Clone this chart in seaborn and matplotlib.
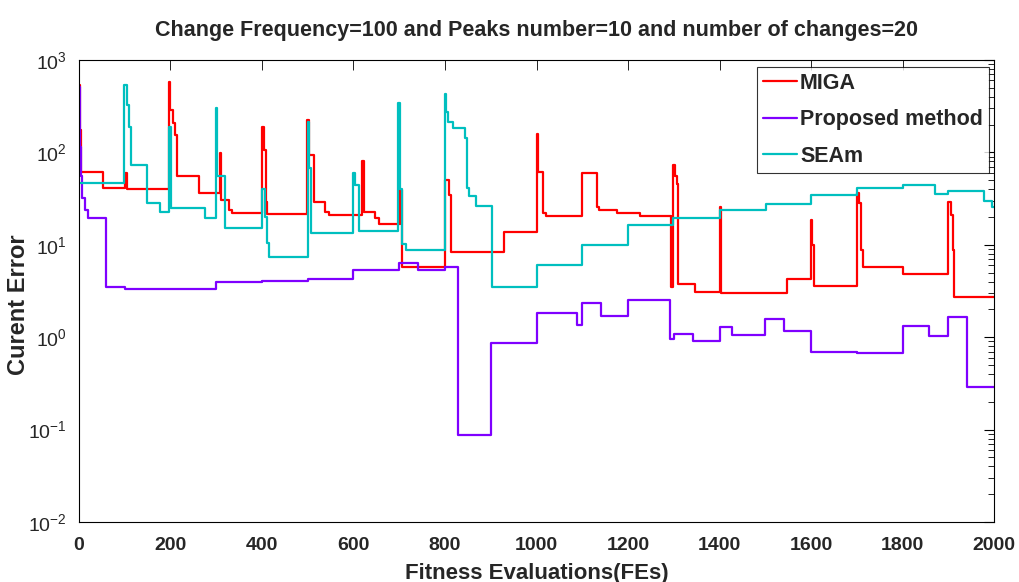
import numpy as np
import pandas as pd
import matplotlib
matplotlib.use("Agg")
import matplotlib.pyplot as plt
import seaborn as sns
from matplotlib.ticker import LogLocator, NullFormatter, FixedLocator

# ---------------- data ----------------
miga_x = [0, 2, 5, 53, 100, 106, 197, 200, 205, 210, 215, 262, 308, 311, 327, 335,
          400, 404, 408, 411, 498, 502, 514, 538, 546, 619, 622, 648, 655, 702, 707,
          800, 809, 813, 929, 1000, 1003, 1015, 1020, 1099, 1132, 1137, 1175, 1227,
          1293, 1298, 1302, 1306, 1310, 1346, 1401, 1404, 1548, 1599, 1602, 1606,
          1700, 1704, 1709, 1713, 1802, 1900, 1907, 1910, 1913, 2000]
miga_y = [540, 175, 62, 41, 60, 40, 580, 290, 210, 155, 56, 36, 98, 30.5, 24, 22,
          190, 106, 29, 21.5, 224, 94, 29, 22.9, 20.8, 80, 22.9, 19.4, 16.8, 39, 5.8,
          50, 34.6, 8.3, 13.9, 158, 61.6, 22, 20.6, 59.2, 25.6, 23.9, 22, 20.6,
          3.5, 73, 55, 46, 3.8, 3.1, 25.9, 3.0, 4.3, 18.5, 10, 3.6,
          36.6, 28, 8.7, 5.8, 4.8, 29, 20.8, 8.7, 2.75, 2.75]

prop_x = [0, 2, 3, 4, 6, 14, 20, 58, 100, 199, 299, 401, 500, 599, 699, 741, 800,
          829, 900, 1000, 1088, 1100, 1141, 1201, 1291, 1300, 1341, 1401, 1427,
          1500, 1541, 1601, 1700, 1800, 1858, 1900, 1940, 2000]
prop_y = [515, 198, 114, 55, 32, 24, 19.3, 3.47, 3.36, 3.3, 4.0, 4.1, 4.3, 5.3, 6.4, 5.3, 5.8,
          0.0875, 0.86, 1.82, 1.35, 2.37, 1.71, 2.53, 0.95, 1.08, 0.9, 1.28, 1.05,
          1.56, 1.17, 0.70, 0.68, 1.32, 1.03, 1.67, 0.29, 0.29]

seam_x = [0, 98, 104, 110, 114, 148, 177, 197, 202, 275, 299, 302, 320, 400, 407,
          411, 416, 501, 503, 507, 600, 604, 611, 698, 702, 707, 714, 800, 803, 807,
          818, 844, 849, 853, 868, 902, 1000, 1100, 1201, 1299, 1401, 1501, 1600,
          1700, 1802, 1871, 1900, 1977, 1995, 2000]
seam_y = [47, 536, 326, 190, 73, 28, 22.5, 187, 24.8, 19.3, 300, 55.6, 15.1, 40, 20.2,
          10.4, 7.4, 215, 67, 13.5, 59.3, 44.5, 14.1, 345, 40, 10.2, 8.7, 429, 276, 215,
          182, 142, 40.9, 34, 26.4, 3.47, 6.0, 10, 16.4, 19.7, 23.9, 27.4, 34.8,
          41.5, 44.5, 35.3, 38.5, 30.1, 25.9, 25.9]

series_names = ["MIGA", "Proposed method", "SEAm"]
series_colors = ["#ff0000", "#7f00ff", "#00bfbf"]

title_text = "Change Frequency=100 and Peaks number=10 and number of changes=20"
xlabel_text = "Fitness Evaluations(FEs)"
ylabel_text = "Curent Error"
xticks = [0, 200, 400, 600, 800, 1000, 1200, 1400, 1600, 1800, 2000]

# ---------------- build ----------------
df = pd.concat([
    pd.DataFrame({"FEs": miga_x, "err": miga_y, "method": series_names[0]}),
    pd.DataFrame({"FEs": prop_x, "err": prop_y, "method": series_names[1]}),
    pd.DataFrame({"FEs": seam_x, "err": seam_y, "method": series_names[2]}),
], ignore_index=True)

sns.set_theme(style="white")
plt.rcParams["font.family"] = ["Liberation Sans", "DejaVu Sans"]
plt.rcParams["mathtext.fontset"] = "custom"
plt.rcParams["mathtext.rm"] = "Liberation Sans"

fig = plt.figure(figsize=(10.19, 5.82), dpi=100)
ax = fig.add_axes([0.0775, 0.103, 0.898, 0.794])

sns.lineplot(data=df, x="FEs", y="err", hue="method", hue_order=series_names,
             palette=series_colors, estimator=None, sort=False,
             drawstyle="steps-post", linewidth=1.6, ax=ax)

ax.set_yscale("log")
ax.set_xlim(0, 2000)
ax.set_ylim(1e-2, 1e3)
ax.xaxis.set_major_locator(FixedLocator(xticks))
ax.yaxis.set_major_locator(LogLocator(base=10, numticks=10))
ax.yaxis.set_minor_locator(LogLocator(base=10, subs=np.arange(2, 10), numticks=50))
ax.yaxis.set_minor_formatter(NullFormatter())

ax.tick_params(axis="both", which="both", direction="in", top=True, right=True,
               color="black")
ax.tick_params(axis="x", which="major", length=7, width=0.6, pad=11)
ax.tick_params(axis="y", which="major", length=7, width=0.8, pad=9)
ax.tick_params(axis="y", which="minor", length=4, width=0.6)
for lab in ax.get_xticklabels():
    lab.set_fontweight("bold")
    lab.set_fontsize(14)
for lab in ax.get_yticklabels():
    lab.set_fontsize(14)

for sp in ax.spines.values():
    sp.set_color("black")
    sp.set_linewidth(0.8)

ax.set_title(title_text, fontsize=15.5, fontweight="bold", pad=17)
ax.set_xlabel(xlabel_text, fontsize=16, fontweight="bold")
ax.set_ylabel(ylabel_text, fontsize=17, fontweight="bold")
ax.xaxis.set_label_coords(0.5, -0.088)
ax.yaxis.set_label_coords(-0.054, 0.47)

leg = ax.legend(loc="upper right", bbox_to_anchor=(0.9945, 0.985), borderaxespad=0,
                fontsize=15.5, frameon=True, fancybox=False,
                edgecolor="black", borderpad=0.28, labelspacing=0.72,
                handlelength=1.58, handletextpad=0.14)
leg.get_frame().set_linewidth(0.8)
for t in leg.get_texts():
    t.set_fontweight("bold")
for h in leg.get_lines():
    h.set_linewidth(1.6)

fig.savefig("out.png", dpi=100, facecolor="white")
